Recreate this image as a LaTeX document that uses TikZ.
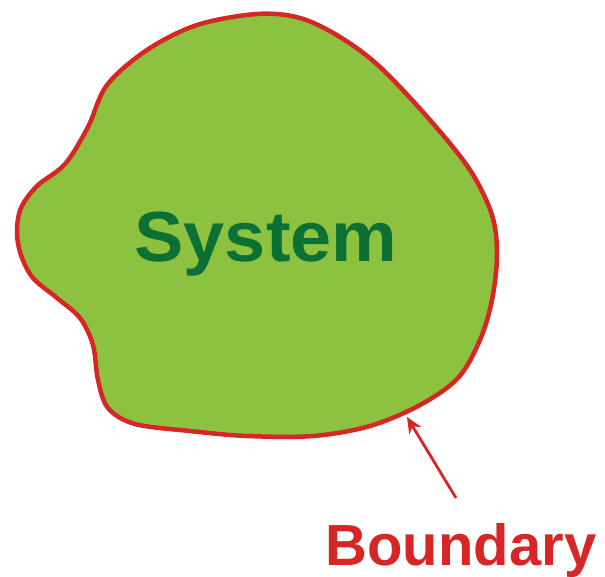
\documentclass[tikz,border=0pt]{standalone}
\usepackage{fontspec}
\setmainfont{Liberation Sans}
\usetikzlibrary{arrows.meta}
\definecolor{blobgreen}{RGB}{140,194,64}
\definecolor{textgreen}{RGB}{12,112,52}
\definecolor{edgered}{RGB}{214,38,38}
\tikzset{
  blob/.style={fill=blobgreen, draw=edgered, line width=4.5pt, line join=round},
  systemlabel/.style={text=textgreen, font=\fontsize{71}{80}\selectfont\bfseries, inner sep=0pt, anchor=base, xscale=1.04},
  boundlabel/.style={text=edgered, font=\fontsize{58}{64}\selectfont\bfseries, inner sep=0pt, anchor=base},
  pointer/.style={draw=edgered, line width=2.8pt, -{Stealth[length=16pt,width=14pt]}}
}
\begin{document}
\begin{tikzpicture}[x=1pt,y=-1pt]
\useasboundingbox (0,0) rectangle (605,576);
\fill[white] (0,0) rectangle (605,576);
\draw[blob] plot[smooth cycle, tension=0.55] coordinates {
  (257,14) (300,18) (340,37) (380,67) (430,120) (470,170) (492,215) (497,255)
  (492,300) (480,340) (458,378) (420,405) (370,426) (313,436)
  (247,436) (190,431) (135,424) (108,408) (98,380) (93,345)
  (80,318) (57,298) (33,278) (21,255) (17,232) (21,208) (37,186) (65,164) (88,127)
  (107,85) (147,50) (197,25)
};
\node[systemlabel] (system) at (266,261) {System};
\node[boundlabel] (boundary) at (461,565) {Boundary};
\coordinate (ptail) at (456,498);
\coordinate (phead) at (407,417);
\draw[pointer] (ptail) -- (phead);
\end{tikzpicture}
\end{document}
